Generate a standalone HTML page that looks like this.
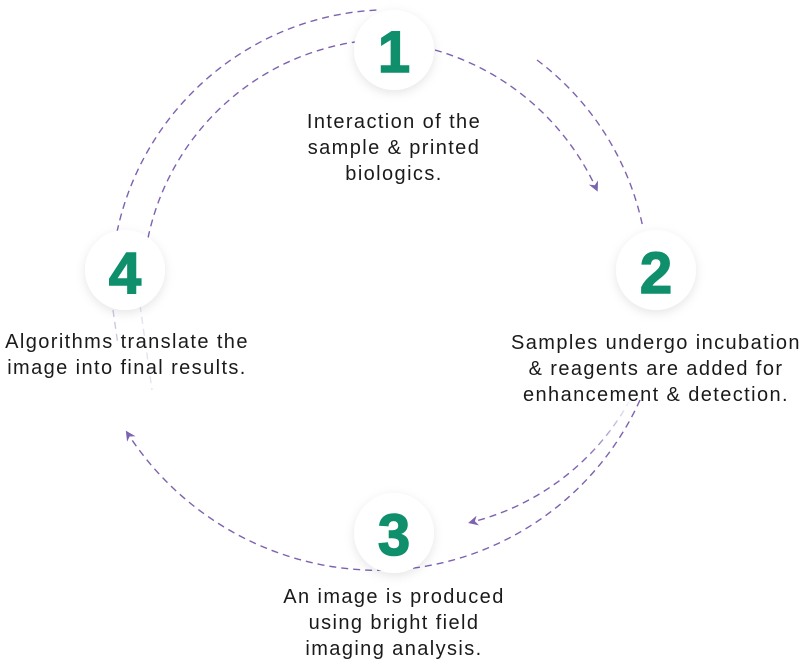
<!DOCTYPE html>
<html><head><meta charset="utf-8"><style>
html,body{margin:0;padding:0;background:#fff;}
body{width:805px;height:663px;position:relative;overflow:hidden;font-family:"Liberation Sans",sans-serif;}
.t{position:absolute;font-size:20px;line-height:26px;color:#1a1a1a;text-align:center;white-space:nowrap;letter-spacing:1.4px}
</style></head><body>
<svg width="805" height="663" style="position:absolute;left:0;top:0">
<defs>
<filter id="sh" x="-50%" y="-50%" width="200%" height="200%"><feDropShadow dx="0" dy="3" stdDeviation="5" flood-color="#000" flood-opacity="0.10"/></filter>
<linearGradient id="fd" x1="0" y1="0" x2="0" y2="1"><stop offset="0" stop-color="#7d62b0" stop-opacity="0.05"/><stop offset="0.5" stop-color="#7d62b0" stop-opacity="1"/></linearGradient>
<marker id="ar" markerWidth="10" markerHeight="10" refX="6" refY="5" orient="auto" markerUnits="userSpaceOnUse"><path d="M0,0 L10,5 L0,10 L3,5 Z" fill="#7d62b0"/></marker>
</defs>
<g fill="none" stroke="#7d62b0" stroke-width="1.4" stroke-dasharray="7,5">
<path d="M117,232 A280,280 0 0 1 378,10"/>
<path d="M148,238 A250,250 0 0 1 355,42"/>
<path d="M435,50 A255,255 0 0 1 596,188" marker-end="url(#ar)"/>
<path d="M537,60 A280,280 0 0 1 643,228"/>
<path d="M630,400 A250,250 0 0 1 472,522" stroke="url(#fd)" marker-end="url(#ar)"/>
<path d="M640,400 A290,290 0 0 1 394,570 A300,300 0 0 1 128,434" stroke="#7d62b0" marker-end="url(#ar)"/>
<path d="M113,310 L118,345" stroke="#cfc6e2"/>
<path d="M140,305 L152,390" stroke="#e6e0f0"/>
</g>
<g filter="url(#sh)" fill="#fff">
<circle cx="394" cy="50" r="40"/>
<circle cx="656" cy="270" r="40"/>
<circle cx="394" cy="533" r="40"/>
<circle cx="125" cy="270" r="40"/>
</g>
<g fill="#0f8f6b" font-family="Liberation Sans, sans-serif" font-weight="bold" font-size="58" text-anchor="middle" stroke="#0f8f6b" stroke-width="1.5">
<text x="394" y="72">1</text>
<text x="656" y="293">2</text>
<text x="394" y="555">3</text>
<text x="125" y="293">4</text>
</g>
</svg>
<div class="t" style="left:244px;top:109px;width:300px">Interaction of the<br>sample &amp; printed<br>biologics.</div>
<div class="t" style="left:496px;top:330px;width:320px">Samples undergo incubation<br>&amp; reagents are added for<br>enhancement &amp; detection.</div>
<div class="t" style="left:-23px;top:329px;width:300px">Algorithms translate the<br>image into final results.</div>
<div class="t" style="left:244px;top:584px;width:300px">An image is produced<br>using bright field<br>imaging analysis.</div>
</body></html>
